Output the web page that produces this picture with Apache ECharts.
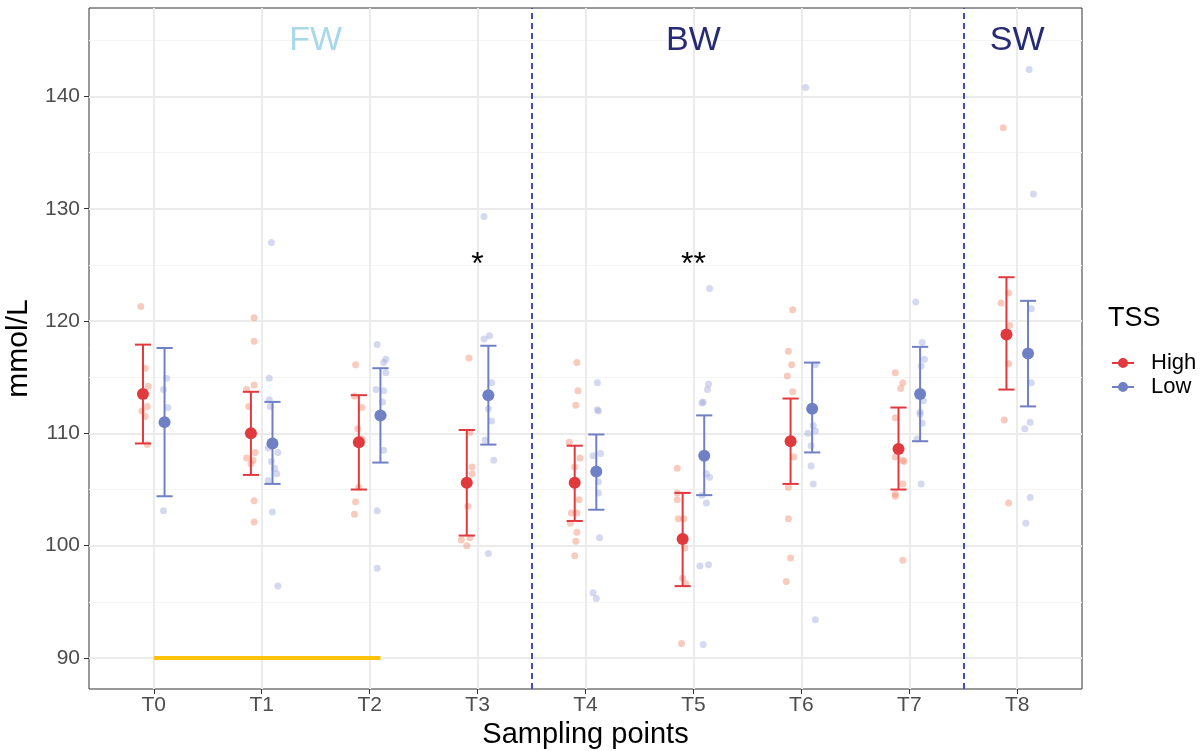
<!DOCTYPE html>
<html>
<head>
<meta charset="utf-8">
<script src="https://cdn.jsdelivr.net/npm/echarts@6/dist/echarts.min.js"></script>
<style>
  html, body { margin: 0; padding: 0; background: #fff; }
  #chart { width: 1204px; height: 751px; }
</style>
</head>
<body>
<div id="chart"></div>
<script>
// sampling points on the x axis
const categories = ['T0', 'T1', 'T2', 'T3', 'T4', 'T5', 'T6', 'T7', 'T8']
const yTicks = [90, 100, 110, 120, 130, 140]
const yMinorTicks = [95, 105, 115, 125, 135, 145]

// mean +- error, TSS High / Low
const highMean  = [113.5, 110.0, 109.2, 105.6, 105.6, 100.6, 109.3, 108.6, 118.8]
const highLower = [109.1, 106.3, 105.0, 100.9, 102.2,  96.4, 105.5, 105.0, 113.9]
const highUpper = [117.9, 113.7, 113.4, 110.3, 108.9, 104.7, 113.1, 112.3, 123.9]
const lowMean   = [111.0, 109.1, 111.6, 113.4, 106.6, 108.0, 112.2, 113.5, 117.1]
const lowLower  = [104.4, 105.5, 107.4, 109.0, 103.2, 104.5, 108.3, 109.3, 112.4]
const lowUpper  = [117.6, 112.8, 115.8, 117.8, 109.9, 111.6, 116.3, 117.7, 121.8]

// raw samples: [offset from sampling point (jittered), value]
const highRaw = [
  [[-0.12,121.3],[-0.08,115.8],[-0.05,114.2],[-0.06,112.4],[-0.11,112.0],[-0.08,111.5],[-0.06,109.0]],
  [[-0.07,120.3],[-0.07,118.2],[-0.07,114.3],[-0.14,113.9],[-0.12,112.4],[-0.06,108.3],[-0.14,107.8],[-0.10,107.3],[-0.08,107.6],[-0.07,104.0],[-0.07,102.1]],
  [[-0.13,116.1],[-0.14,113.3],[-0.07,112.3],[-0.11,110.4],[-0.07,109.5],[-0.10,105.2],[-0.13,103.9],[-0.14,102.8]],
  [[-0.08,116.7],[-0.07,110.1],[-0.05,107.0],[-0.05,106.4],[-0.09,103.5],[-0.15,100.5],[-0.07,100.7],[-0.10,100.0]],
  [[-0.08,116.3],[-0.07,113.8],[-0.09,112.5],[-0.15,109.2],[-0.05,107.8],[-0.10,107.0],[-0.06,104.1],[-0.13,102.9],[-0.08,102.9],[-0.14,102.0],[-0.08,101.2],[-0.09,100.4],[-0.10,99.1]],
  [[-0.15,106.9],[-0.15,104.7],[-0.15,104.1],[-0.14,102.4],[-0.09,102.4],[-0.08,99.8],[-0.10,97.1],[-0.07,96.6],[-0.11,91.3]],
  [[-0.08,121.0],[-0.12,117.3],[-0.09,116.1],[-0.13,115.1],[-0.08,113.7],[-0.07,107.9],[-0.12,105.2],[-0.12,102.4],[-0.10,98.9],[-0.14,96.8]],
  [[-0.13,115.4],[-0.06,114.5],[-0.08,114.0],[-0.13,111.4],[-0.06,107.6],[-0.13,107.9],[-0.05,107.5],[-0.06,105.5],[-0.13,104.6],[-0.13,104.4],[-0.06,98.7]],
  [[-0.13,137.2],[-0.08,122.5],[-0.15,121.6],[-0.07,119.6],[-0.08,116.2],[-0.12,111.2],[-0.08,103.8]]
]
const lowRaw = [
  [[0.12,114.9],[0.09,113.9],[0.13,112.3],[0.09,103.1]],
  [[0.09,127.0],[0.07,114.9],[0.07,113.0],[0.08,112.4],[0.06,108.7],[0.15,108.3],[0.09,107.5],[0.12,106.9],[0.14,106.4],[0.06,105.8],[0.10,103.0],[0.15,96.4]],
  [[0.07,117.9],[0.15,116.6],[0.13,116.3],[0.15,115.4],[0.06,113.9],[0.13,113.8],[0.12,112.8],[0.13,111.6],[0.13,108.5],[0.07,103.1],[0.07,98.0]],
  [[0.06,129.3],[0.06,118.4],[0.11,118.7],[0.13,114.5],[0.10,112.2],[0.13,111.1],[0.07,109.4],[0.15,107.6],[0.10,99.3]],
  [[0.11,114.5],[0.11,112.1],[0.12,112.0],[0.07,108.0],[0.14,108.2],[0.12,105.7],[0.12,104.7],[0.13,100.7],[0.07,95.8],[0.10,95.3]],
  [[0.15,122.9],[0.14,114.4],[0.13,113.9],[0.09,112.8],[0.08,112.7],[0.12,106.4],[0.15,106.1],[0.08,104.5],[0.12,103.8],[0.06,98.2],[0.14,98.3],[0.09,91.2]],
  [[0.04,140.8],[0.13,116.1],[0.11,110.7],[0.13,110.2],[0.06,110.0],[0.09,108.9],[0.09,107.1],[0.11,105.5],[0.13,93.4]],
  [[0.06,121.7],[0.12,118.1],[0.14,116.6],[0.11,116.0],[0.13,112.9],[0.10,111.9],[0.10,111.7],[0.12,110.9],[0.07,109.5],[0.11,105.5]],
  [[0.11,142.4],[0.15,131.3],[0.13,121.1],[0.13,114.5],[0.12,111.0],[0.07,110.4],[0.12,104.3],[0.08,102.0]]
]

// annotations
const regionBreaks = [3.5, 7.5]
const regionNames = ['FW', 'BW', 'SW']
const regionCenters = [1.5, 5, 8]
const regionY = 145
const sigMarks = ['*', '**']
const sigAt = [3, 5]
const sigY = 125.0
const baselineFrom = 0
const baselineTo = 2.1
const baselineValue = 90

const highColor = '#E0393E'
const lowColor = '#7080C4'
const regionColors = ['#A8D8EA', '#262B73', '#262B73']
const dodge = 0.1
const font = 'Liberation Sans'

const catIdx = categories.map((c, i) => i)

function rawPoints(groups) {
  const out = []
  groups.forEach((g, i) => g.forEach(p => out.push([i + p[0], p[1]])))
  return out
}

function errorBars(lo, hi, shift) {
  return categories.map((c, i) => [i + shift, lo[i], hi[i]])
}

function errorBarSeries(name, data, color) {
  return {
    name: name,
    type: 'custom',
    z: 4,
    silent: true,
    data: data,
    renderItem: function (params, api) {
      const x = api.value(0)
      const top = api.coord([x, api.value(2)])
      const bot = api.coord([x, api.value(1)])
      const hw = api.size([0.075, 0])[0]
      const style = { stroke: color, lineWidth: 2, fill: null }
      return {
        type: 'group',
        children: [
          { type: 'line', shape: { x1: top[0], y1: top[1], x2: bot[0], y2: bot[1] }, style: style },
          { type: 'line', shape: { x1: top[0] - hw, y1: top[1], x2: top[0] + hw, y2: top[1] }, style: style },
          { type: 'line', shape: { x1: bot[0] - hw, y1: bot[1], x2: bot[0] + hw, y2: bot[1] }, style: style }
        ]
      }
    }
  }
}

function textSeries(name, x, y, text, color, size) {
  return {
    name: name,
    type: 'scatter',
    z: 6,
    silent: true,
    symbolSize: 1,
    itemStyle: { color: 'transparent', opacity: 1 },
    label: {
      show: true,
      position: 'inside',
      formatter: text,
      color: color,
      fontSize: size,
      fontFamily: font
    },
    data: [[x, y]]
  }
}

const gridLines = []
yMinorTicks.forEach(v => gridLines.push({ yAxis: v, lineStyle: { color: '#F4F4F4', width: 1, type: 'solid' } }))
yTicks.forEach(v => gridLines.push({ yAxis: v, lineStyle: { color: '#EBEBEB', width: 2, type: 'solid' } }))
catIdx.forEach(v => gridLines.push({ xAxis: v, lineStyle: { color: '#EBEBEB', width: 2, type: 'solid' } }))

let myChart = echarts.init(document.getElementById('chart'))
let option = {
  animation: false,
  backgroundColor: '#fff',
  grid: {
    left: 89, right: 122, top: 8, bottom: 62,
    outerBoundsMode: 'none',
    containLabel: false,
    show: true, borderColor: '#333', borderWidth: 1, backgroundColor: 'transparent'
  },
  legend: {
    data: ['High', 'Low'],
    orient: 'vertical',
    left: 1107,
    top: 347,
    itemWidth: 22,
    itemHeight: 10,
    itemGap: 2,
    icon: 'path://M0,5h22v2H0z M6,6a5,5 0 1,1 10,0a5,5 0 1,1 -10,0z',
    selectedMode: false,
    textStyle: { fontSize: 22, color: '#000', fontFamily: font, padding: [0, 0, 0, 12], lineHeight: 22 }
  },
  graphic: [
    {
      type: 'text', left: 1108, top: 305,
      style: { text: 'TSS', fontSize: 27, fill: '#000', fontFamily: font }
    }
  ],
  xAxis: {
    type: 'value',
    min: -0.6,
    max: 8.6,
    name: 'Sampling points',
    nameLocation: 'middle',
    nameGap: 31,
    nameTextStyle: { fontSize: 29, color: '#000', fontFamily: font },
    axisLine: { show: false, onZero: false },
    splitLine: { show: false },
    axisTick: { show: true, customValues: catIdx, length: 5, lineStyle: { color: '#333', width: 1 } },
    axisLabel: {
      customValues: catIdx,
      formatter: v => categories[Math.round(v)],
      fontSize: 21, color: '#4D4D4D', margin: 6, fontFamily: font
    }
  },
  yAxis: {
    type: 'value',
    min: 87.24,
    max: 147.87,
    name: 'mmol/L',
    nameLocation: 'middle',
    nameGap: 50,
    nameTextStyle: { fontSize: 30, color: '#000', fontFamily: font },
    axisLine: { show: false, onZero: false },
    splitLine: { show: false },
    axisTick: { show: true, customValues: yTicks, length: 5, lineStyle: { color: '#333', width: 1 } },
    axisLabel: {
      customValues: yTicks,
      fontSize: 21, color: '#4D4D4D', margin: 9, fontFamily: font
    }
  },
  series: [
    {
      name: 'highRaw',
      type: 'scatter',
      z: 2,
      silent: true,
      symbolSize: 7,
      itemStyle: { color: 'rgba(240,140,110,0.45)', opacity: 1 },
      data: rawPoints(highRaw),
      markLine: {
        z: 0,
        silent: true,
        symbol: 'none',
        label: { show: false },
        animation: false,
        data: gridLines
      }
    },
    {
      name: 'lowRaw',
      type: 'scatter',
      z: 2,
      silent: true,
      symbolSize: 7,
      itemStyle: { color: 'rgba(150,160,215,0.4)', opacity: 1 },
      data: rawPoints(lowRaw),
      markLine: {
        z: 3,
        silent: true,
        symbol: 'none',
        label: { show: false },
        animation: false,
        lineStyle: { color: '#3F51B5', width: 2, type: [6, 4] },
        data: regionBreaks.map(v => ({ xAxis: v }))
      }
    },
    {
      name: 'baseline',
      type: 'line',
      z: 3,
      silent: true,
      symbol: 'none',
      lineStyle: { color: '#FFC20A', width: 4 },
      data: [[baselineFrom, baselineValue], [baselineTo, baselineValue]]
    },
    errorBarSeries('highErr', errorBars(highLower, highUpper, -dodge), highColor),
    errorBarSeries('lowErr', errorBars(lowLower, lowUpper, dodge), lowColor),
    {
      name: 'High',
      type: 'scatter',
      z: 5,
      symbolSize: 12,
      itemStyle: { color: highColor, opacity: 1 },
      data: highMean.map((v, i) => [i - dodge, v])
    },
    {
      name: 'Low',
      type: 'scatter',
      z: 5,
      symbolSize: 12,
      itemStyle: { color: lowColor, opacity: 1 },
      data: lowMean.map((v, i) => [i + dodge, v])
    }
  ].concat(
    regionNames.map((n, i) => textSeries('region' + n, regionCenters[i], regionY, n, regionColors[i], 34)),
    sigMarks.map((m, i) => textSeries('sig' + i, sigAt[i], sigY, m, '#000', 32))
  )
}
myChart.setOption(option)
</script>
</body>
</html>
